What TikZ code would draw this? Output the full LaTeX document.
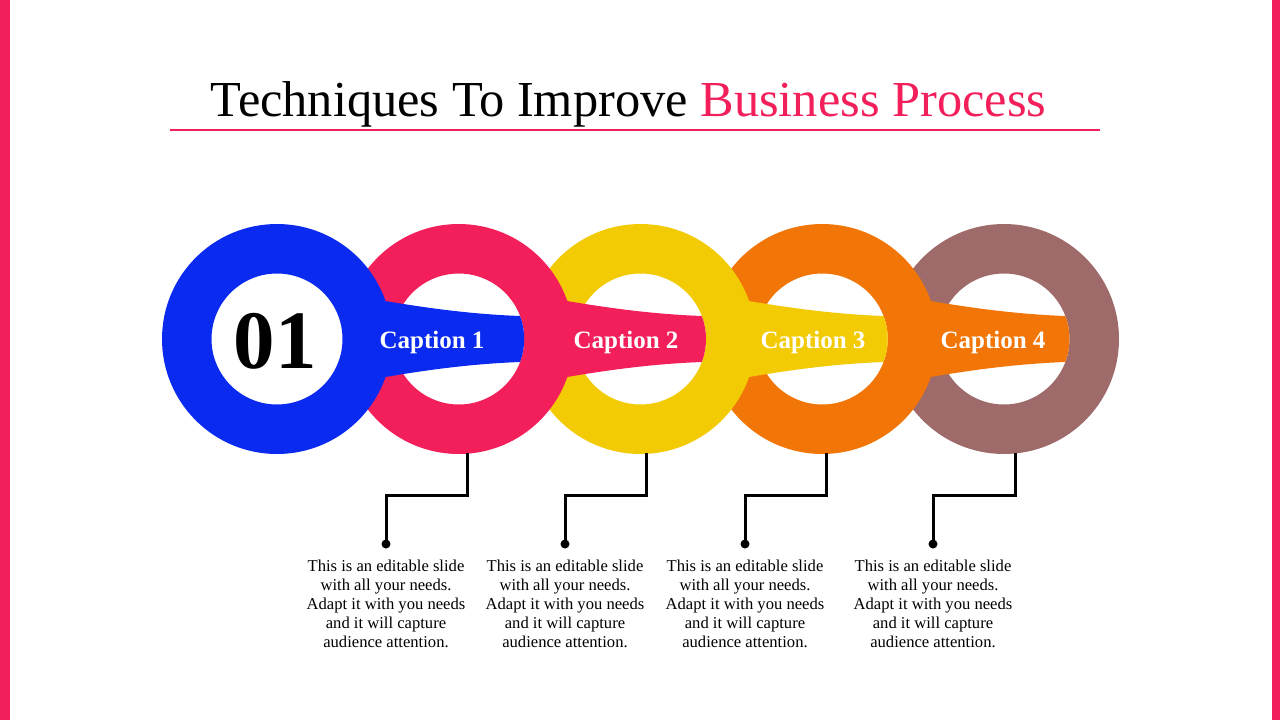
\documentclass[tikz,border=0pt]{standalone}
\usepackage{fontspec}
\setmainfont{Liberation Serif}
\definecolor{cBlue}{HTML}{0A2AF0}
\definecolor{cPink}{HTML}{F21F5A}
\definecolor{cYellow}{HTML}{F2CB05}
\definecolor{cOrange}{HTML}{F27507}
\definecolor{cBrown}{HTML}{9E6B6A}
\begin{document}
\begin{tikzpicture}[x=1pt,y=-1pt,
  ringfill/.style={even odd rule},
  link/.style={line width=3pt, black},
  dotn/.style={circle, fill=black, inner sep=0pt, minimum size=9pt},
  body/.style={align=center, inner sep=0pt, anchor=north, font=\fontsize{16.6}{19}\selectfont},
  captext/.style={anchor=base, text=white, font=\fontsize{25}{30}\selectfont\bfseries},
]
\useasboundingbox (0,0) rectangle (1280,720);
\fill[cPink] (0,0) rectangle (10,720);
\fill[cPink] (1272,0) rectangle (1280,720);

% title
\node[anchor=base, inner sep=0pt, font=\fontsize{50.4}{60}\selectfont] (title) at (628.5,116)
  {Techniques To Improve \textcolor{cPink}{Business Process}};
\coordinate (ulA) at (170,130);
\coordinate (ulB) at (1100,130);
\draw[cPink, line width=1.2pt] (ulA) -- (ulB);

% rings, right to left
\fill[cBrown, ringfill] (1004,339) circle[radius=115] (1004,339) circle[radius=65.5];
\foreach \c/\n/\col in {822.25/1004/cOrange, 640.5/822.25/cYellow, 458.75/640.5/cPink, 277/458.75/cBlue}{
  \fill[\col, ringfill] (\c,339) circle[radius=115] (\c,339) circle[radius=65.5];
  \fill[\col] ({\c+80},296) .. controls ({\c+140},307) and ({\c+190},314) .. ({\n+61.33},316)
     arc[start angle=-20.56, end angle=20.56, radius=65.5]
     .. controls ({\c+190},364) and ({\c+140},371) .. ({\c+80},382) -- cycle;
}

\node[anchor=base, inner sep=0pt, font=\fontsize{83}{90}\selectfont\bfseries] (num) at (275,368) {01};

\node[captext] (c1) at (432,348) {Caption 1};
\node[captext] (c2) at (626,348) {Caption 2};
\node[captext] (c3) at (813,348) {Caption 3};
\node[captext] (c4) at (993,348) {Caption 4};

% connectors
\coordinate (a1) at (467,453);
\coordinate (a2) at (646,453);
\coordinate (a3) at (826,453);
\coordinate (a4) at (1015,453);
\node[dotn] (d1) at (386,544) {};
\node[dotn] (d2) at (565,544) {};
\node[dotn] (d3) at (745,544) {};
\node[dotn] (d4) at (933,544) {};
\draw[link] (a1) -- ++(0,42) -| (d1.center);
\draw[link] (a2) -- ++(0,42) -| (d2.center);
\draw[link] (a3) -- ++(0,42) -| (d3.center);
\draw[link] (a4) -- ++(0,42) -| (d4.center);

\node[body] (t1) at (386,560) {This is an editable slide\\with all your needs.\\Adapt it with you needs\\and it will capture\\audience attention.};
\node[body] (t2) at (565,560) {This is an editable slide\\with all your needs.\\Adapt it with you needs\\and it will capture\\audience attention.};
\node[body] (t3) at (745,560) {This is an editable slide\\with all your needs.\\Adapt it with you needs\\and it will capture\\audience attention.};
\node[body] (t4) at (933,560) {This is an editable slide\\with all your needs.\\Adapt it with you needs\\and it will capture\\audience attention.};
\end{tikzpicture}
\end{document}
